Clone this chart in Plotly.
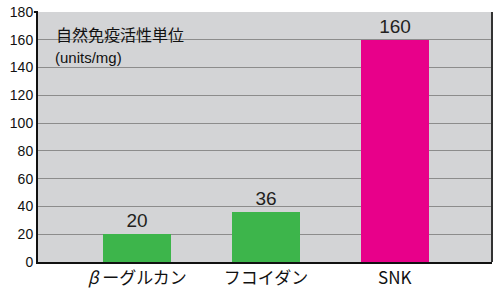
import plotly.graph_objects as go

categories = ["<i>β</i> ーグルカン", "フコイダン", "SNK"]
values = [20, 36, 160]
colors = ["#3db54b", "#3db54b", "#e8008a"]
y_ticks = [0, 20, 40, 60, 80, 100, 120, 140, 160, 180]

FONT = "Liberation Sans, Arial, Noto Sans CJK JP, sans-serif"
JP = "Noto Sans CJK JP, Liberation Sans, sans-serif"

fig = go.Figure()
fig.add_trace(go.Bar(
    x=list(range(len(categories))),
    y=values,
    marker=dict(color=colors, line=dict(width=0)),
    width=0.53,
    text=[str(v) for v in values],
    textposition="outside",
    textfont=dict(family=FONT, size=19, color="#231f20"),
    cliponaxis=False,
))

fig.update_layout(
    width=500, height=292,
    margin=dict(l=38, r=8, t=12, b=30),
    paper_bgcolor="white",
    plot_bgcolor="#d3d4d6",
    showlegend=False,
    bargap=0,
    xaxis=dict(
        range=[-0.77, 2.755],
        tickvals=list(range(len(categories))),
        ticktext=categories,
        tickfont=dict(family=JP, size=17, color="#111"),
        showgrid=False,
        showline=True, linecolor="#111", linewidth=2,
        ticks="", zeroline=False, fixedrange=True, automargin=False,
    ),
    yaxis=dict(
        range=[0, 180],
        tickvals=y_ticks,
        tickfont=dict(family=FONT, size=14, color="#111"),
        showgrid=True, gridcolor="#8c8c8c", gridwidth=1,
        showline=True, linecolor="#111", linewidth=2,
        ticks="", zeroline=False, fixedrange=True, automargin=False,
    ),
    shapes=[
        dict(type="line", xref="paper", yref="paper", x0=1, x1=1, y0=0, y1=1,
             line=dict(color="#333", width=2)),
        dict(type="line", xref="paper", yref="paper", x0=-0.009, x1=0, y0=1, y1=1,
             line=dict(color="#111", width=2)),
    ],
    annotations=[
        dict(text="自然免疫活性単位", xref="paper", yref="paper", x=0.035, y=0.91,
             xanchor="left", yanchor="middle", showarrow=False,
             font=dict(family=JP, size=16, color="#111")),
        dict(text="(units/mg)", xref="paper", yref="paper", x=0.033, y=0.82,
             xanchor="left", yanchor="middle", showarrow=False,
             font=dict(family=FONT, size=15, color="#111")),
    ],
)

fig.write_html("out.html")
